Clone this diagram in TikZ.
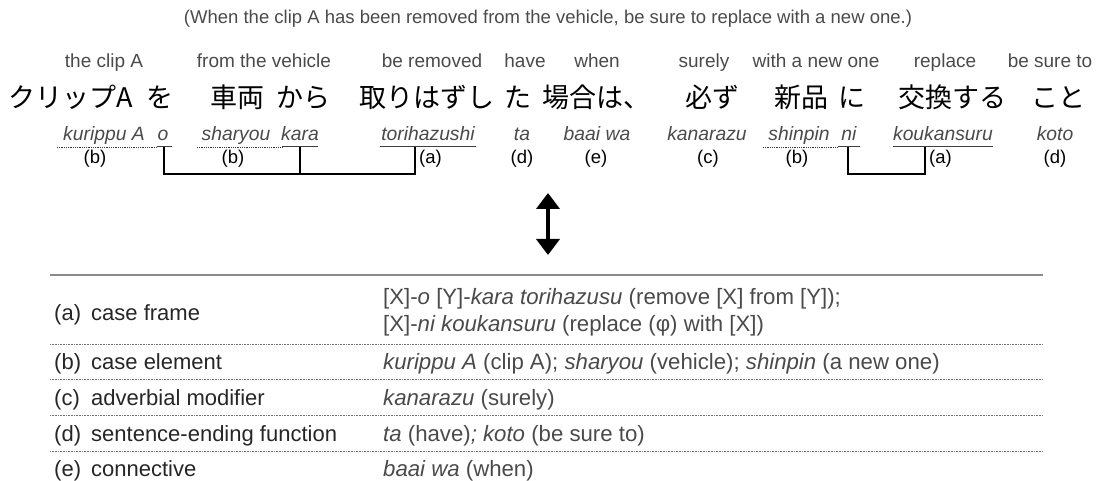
\documentclass[tikz,border=0pt]{standalone}
\usepackage{fontspec}
\setmainfont{Liberation Sans}
\newfontfamily\jpfont{Noto Sans CJK JP}
\usetikzlibrary{arrows.meta}
\definecolor{glossgray}{HTML}{4A4A4A}
\definecolor{rulegray}{HTML}{8A8A8A}
\definecolor{dotgray}{HTML}{707070}
\begin{document}
\begin{tikzpicture}[x=1pt,y=-1pt,
  captext/.style={anchor=base, inner sep=0pt, text=glossgray, font=\fontsize{18.5}{22}\selectfont},
  gloss/.style={anchor=base, inner sep=0pt, text=glossgray, font=\fontsize{19}{22}\selectfont},
  jp/.style={anchor=base, inner sep=0pt, font=\jpfont\fontsize{27}{32}\selectfont},
  rom/.style={anchor=base, inner sep=0pt, text=glossgray, font=\fontsize{19.3}{22}\selectfont\itshape},
  lab/.style={anchor=base, inner sep=0pt, font=\fontsize{18.5}{22}\selectfont},
  tleft/.style={anchor=base west, inner sep=0pt, text=black!85, font=\fontsize{22}{26}\selectfont},
  tright/.style={anchor=base west, inner sep=0pt, text=glossgray, font=\fontsize{22.2}{26}\selectfont},
  dotul/.style={draw=black!80, line width=0.9pt, dash pattern=on 0.9pt off 0.9pt},
  solul/.style={draw=black!75, line width=1pt},
  bracket/.style={draw=black, line width=1.2pt},
  toprule/.style={draw=rulegray, line width=1.1pt},
  rowrule/.style={draw=dotgray, line width=0.8pt, dash pattern=on 0.8pt off 0.8pt},
  bigarrow/.style={line width=4.5pt, {Triangle[width=23pt,length=16pt]}-{Triangle[width=23pt,length=16pt]}}
]
\useasboundingbox (0,0) rectangle (1096,481);

% caption
\node[captext] (capt) at (548,24) {(When the clip A has been removed from the vehicle, be sure to replace with a new one.)};

% English glosses
\node[gloss] (g1) at (104,68) {the clip A};
\node[gloss] (g2) at (264,68) {from the vehicle};
\node[gloss] (g3) at (432,68) {be removed};
\node[gloss] (g4) at (525,68) {have};
\node[gloss] (g5) at (597,68) {when};
\node[gloss] (g6) at (704,68) {surely};
\node[gloss] (g7) at (816,68) {with a new one};
\node[gloss] (g8) at (945,68) {replace};
\node[gloss] (g9) at (1050,68) {be sure to};

% Japanese
\node[jp] (j1) at (71,108) {クリップA};
\node[jp] (j2) at (160,108) {を};
\node[jp] (j3) at (237,108) {車両};
\node[jp] (j4) at (303,108) {から};
\node[jp] (j5) at (427,108) {取りはずし};
\node[jp] (j6) at (518,108) {た};
\node[jp] (j7) at (596,108) {場合は、};
\node[jp] (j8) at (712,108) {必ず};
\node[jp] (j9) at (801,108) {新品};
\node[jp] (j10) at (852,108) {に};
\node[jp] (j11) at (952,108) {交換する};
\node[jp] (j12) at (1058,108) {こと};

% romanization
\node[rom] (r1) at (104,141) {kurippu A};
\node[rom] (r2) at (163,141) {o};
\node[rom] (r3) at (236,141) {sharyou};
\node[rom] (r4) at (300,141) {kara};
\node[rom] (r5) at (428,141) {torihazushi};
\node[rom] (r6) at (522,141) {ta};
\node[rom] (r7) at (597,141) {baai wa};
\node[rom] (r8) at (707,141) {kanarazu};
\node[rom] (r9) at (799,141) {shinpin};
\node[rom] (r10) at (849,141) {ni};
\node[rom] (r11) at (943,141) {koukansuru};
\node[rom] (r12) at (1055,141) {koto};

% labels
\node[lab] (l1) at (95,164) {(b)};
\node[lab] (l2) at (233,164) {(b)};
\node[lab, anchor=base west] (l3) at (419,164) {(a)};
\node[lab] (l4) at (522,164) {(d)};
\node[lab] (l5) at (596,164) {(e)};
\node[lab] (l6) at (708,164) {(c)};
\node[lab] (l7) at (797,164) {(b)};
\node[lab, anchor=base west] (l8) at (929,164) {(a)};
\node[lab] (l9) at (1055,164) {(d)};

% underline coordinates
\coordinate (u1a) at (57,147);  \coordinate (u1b) at (157,147);
\coordinate (u2a) at (157,147); \coordinate (u2b) at (172,147);
\coordinate (u3a) at (197,147); \coordinate (u3b) at (282,147);
\coordinate (u4a) at (282,147); \coordinate (u4b) at (318,147);
\coordinate (u5a) at (380,147); \coordinate (u5b) at (476,147);
\coordinate (u9a) at (763,147); \coordinate (u9b) at (838,147);
\coordinate (u10a) at (838,147); \coordinate (u10b) at (860,147);
\coordinate (u11a) at (893,147); \coordinate (u11b) at (993,147);

\draw[dotul] (u1a) -- (u1b);
\draw[dotul] (u3a) -- (u3b);
\draw[dotul] (u9a) -- (u9b);
\draw[solul] (u2a) -- (u2b);
\draw[solul] (u4a) -- (u4b);
\draw[solul] (u5a) -- (u5b);
\draw[solul] (u10a) -- (u10b);
\draw[solul] (u11a) -- (u11b);

% brackets
\coordinate (bo) at (164,147);
\coordinate (bk) at (300,147);
\coordinate (bt) at (415,147);
\coordinate (bn) at (848,147);
\coordinate (bkk) at (925,147);
\draw[bracket] (bo) -- ++(0,27) -| (bt);
\draw[bracket] (bk) -- ++(0,27);
\draw[bracket] (bn) -- ++(0,27) -| (bkk);

% double arrow
\coordinate (at) at (548,193);
\coordinate (ab) at (548,255);
\draw[bigarrow] (at) -- (ab);

% table
\coordinate (tl) at (50,275); \coordinate (tr) at (1043,275);
\draw[toprule] (tl) -- (tr);
\foreach \yy/\nm in {344/d1,379/d2,415/d3,451/d4}{
  \coordinate (\nm a) at (50,\yy); \coordinate (\nm b) at (1043,\yy);
  \draw[rowrule] (\nm a) -- (\nm b);
}

\node[tleft] (ta1) at (54,320) {(a)};
\node[tleft] (ta2) at (91,320) {case frame};
\node[tright] (ta3) at (383,305) {[X]-\textit{o} [Y]-\textit{kara torihazusu} (remove [X] from [Y]);};
\node[tright] (ta4) at (383,332) {[X]-\textit{ni koukansuru} (replace (φ) with [X])};

\node[tleft] (tb1) at (54,369) {(b)};
\node[tleft] (tb2) at (91,369) {case element};
\node[tright] (tb3) at (383,369) {\textit{kurippu A} (clip A); \textit{sharyou} (vehicle); \textit{shinpin} (a new one)};

\node[tleft] (tc1) at (54,405) {(c)};
\node[tleft] (tc2) at (91,405) {adverbial modifier};
\node[tright] (tc3) at (383,405) {\textit{kanarazu} (surely)};

\node[tleft] (td1) at (54,441) {(d)};
\node[tleft] (td2) at (91,441) {sentence-ending function};
\node[tright] (td3) at (383,441) {\textit{ta} (have)\textit{; koto} (be sure to)};

\node[tleft] (te1) at (54,476) {(e)};
\node[tleft] (te2) at (91,476) {connective};
\node[tright] (te3) at (383,476) {\textit{baai wa} (when)};
\end{tikzpicture}
\end{document}
